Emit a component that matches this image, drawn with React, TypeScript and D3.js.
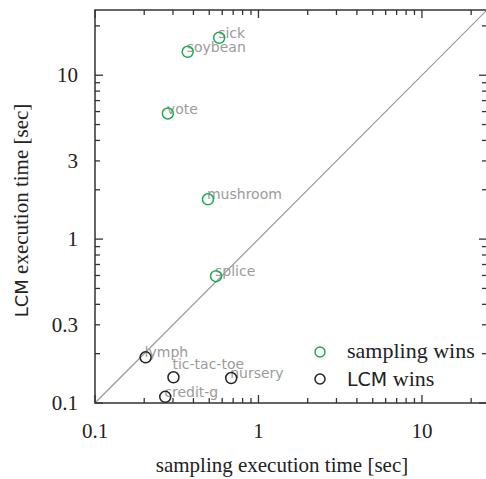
import { useEffect, useRef } from 'react'
import * as d3 from 'd3'

// dataset names, sampling time (x) and LCM time (y), in seconds
const samplingWinsNames = ['sick', 'soybean', 'vote', 'mushroom', 'splice']
const samplingWinsX = [0.575, 0.369, 0.279, 0.491, 0.55]
const samplingWinsY = [16.9, 13.9, 5.84, 1.75, 0.594]

const lcmWinsNames = ['lymph', 'tic-tac-toe', 'nursery', 'credit-g']
const lcmWinsX = [0.204, 0.302, 0.681, 0.269]
const lcmWinsY = [0.19, 0.1435, 0.142, 0.109]

const xTickLabels = [0.1, 1, 10]
const yTickLabels = [0.1, 0.3, 1, 3, 10]
const axisDomain = [0.1, 25]

const GREEN = '#1faa55'
const DARK = '#222'
const SERIF = '"Liberation Serif", "DejaVu Serif", serif'
const SANS = '"DejaVu Sans", "Liberation Sans", sans-serif'

function App() {
  const svgRef = useRef(null)

  useEffect(() => {
    if (!svgRef.current) return
    const svg = d3.select(svgRef.current)
    svg.selectAll('*').remove()

    const left = 95
    const right = 487
    const top = 10
    const bottom = 403

    const x = d3.scaleLog().domain(axisDomain).range([left, right])
    const y = d3.scaleLog().domain(axisDomain).range([bottom, top])

    // all tick positions: every integer multiple within a decade
    const minorTicks = []
    for (let e = -1; e <= 1; e++) {
      for (let m = 1; m <= 9; m++) {
        const v = m * Math.pow(10, e)
        if (v >= axisDomain[0] - 1e-9 && v <= axisDomain[1]) minorTicks.push(v)
      }
    }
    const isMajor = v => Math.abs(Math.log10(v) - Math.round(Math.log10(v))) < 1e-6

    const axisColor = '#333'

    // diagonal y = x
    svg.append('line')
      .attr('x1', x(axisDomain[0])).attr('y1', y(axisDomain[0]))
      .attr('x2', x(axisDomain[1])).attr('y2', y(axisDomain[1]))
      .attr('stroke', '#999')
      .attr('stroke-width', 1.2)

    // ticks (inward on all four sides)
    const ticks = svg.append('g').attr('stroke', axisColor).attr('stroke-width', 1.3)
    minorTicks.forEach(v => {
      const len = isMajor(v) ? 8 : 5
      ticks.append('line').attr('x1', x(v)).attr('x2', x(v)).attr('y1', bottom).attr('y2', bottom - len)
      ticks.append('line').attr('x1', x(v)).attr('x2', x(v)).attr('y1', top).attr('y2', top + len)
      ticks.append('line').attr('y1', y(v)).attr('y2', y(v)).attr('x1', left).attr('x2', left + len)
      ticks.append('line').attr('y1', y(v)).attr('y2', y(v)).attr('x1', right).attr('x2', right - len)
    })

    // frame
    svg.append('rect')
      .attr('x', left).attr('y', top)
      .attr('width', right - left).attr('height', bottom - top)
      .attr('fill', 'none')
      .attr('stroke', axisColor)
      .attr('stroke-width', 1.5)

    // tick labels
    svg.append('g').selectAll('text')
      .data(xTickLabels)
      .enter().append('text')
      .attr('x', d => x(d))
      .attr('y', bottom + 35)
      .attr('text-anchor', 'middle')
      .style('font-family', SERIF)
      .style('font-size', '21px')
      .style('fill', DARK)
      .text(d => String(d))

    svg.append('g').selectAll('text')
      .data(yTickLabels)
      .enter().append('text')
      .attr('x', left - 17)
      .attr('y', d => y(d) + 7)
      .attr('text-anchor', 'end')
      .style('font-family', SERIF)
      .style('font-size', '21px')
      .style('fill', DARK)
      .text(d => String(d))

    // axis titles
    svg.append('text')
      .attr('x', (left + right) / 2 - 9)
      .attr('y', 472)
      .attr('text-anchor', 'middle')
      .style('font-family', SERIF)
      .style('font-size', '21px')
      .style('fill', DARK)
      .text('sampling execution time [sec]')

    const yTitle = svg.append('text')
      .attr('transform', `translate(28,${(top + bottom) / 2 + 4}) rotate(-90)`)
      .attr('text-anchor', 'middle')
      .style('font-family', SERIF)
      .style('font-size', '21px')
      .style('fill', DARK)
    yTitle.append('tspan').style('font-family', SANS).style('font-size', '18px').text('LCM')
    yTitle.append('tspan').text(' execution time [sec]')

    // points
    const drawSeries = (names, xs, ys, color) => {
      const pts = names.map((n, i) => ({ name: n, x: xs[i], y: ys[i] }))
      const g = svg.append('g')
      g.selectAll('text')
        .data(pts)
        .enter().append('text')
        .attr('x', d => x(d.x) - 1)
        .attr('y', d => y(d.y) + (d.name === 'tic-tac-toe' ? -8 : 0))
        .style('font-family', SANS)
        .style('font-size', '14px')
        .style('fill', '#9b9b9b')
        .text(d => d.name)
      g.selectAll('circle')
        .data(pts)
        .enter().append('circle')
        .attr('cx', d => x(d.x))
        .attr('cy', d => y(d.y))
        .attr('r', 5.5)
        .attr('fill', 'none')
        .attr('stroke', color)
        .attr('stroke-width', 1.5)
    }
    drawSeries(samplingWinsNames, samplingWinsX, samplingWinsY, GREEN)
    drawSeries(lcmWinsNames, lcmWinsX, lcmWinsY, DARK)

    // legend
    const legend = svg.append('g').attr('transform', 'translate(320,352)')
    legend.append('circle').attr('cx', 0).attr('cy', 0).attr('r', 5)
      .attr('fill', 'none').attr('stroke', GREEN).attr('stroke-width', 1.5)
    legend.append('text').attr('x', 27).attr('y', 6)
      .style('font-family', SERIF).style('font-size', '22px').style('fill', DARK)
      .text('sampling wins')
    legend.append('circle').attr('cx', 0).attr('cy', 27).attr('r', 5)
      .attr('fill', 'none').attr('stroke', DARK).attr('stroke-width', 1.5)
    const lcmText = legend.append('text').attr('x', 27).attr('y', 34)
      .style('font-family', SERIF).style('font-size', '22px').style('fill', DARK)
    lcmText.append('tspan').style('font-family', SANS).style('font-size', '19px').text('LCM')
    lcmText.append('tspan').text(' wins')
  }, [])

  return (
    <svg
      ref={svgRef}
      width={486}
      height={479}
      style={{ position: 'absolute', left: 0, top: 0, background: '#fff' }}
    ></svg>
  )
}

export default App
